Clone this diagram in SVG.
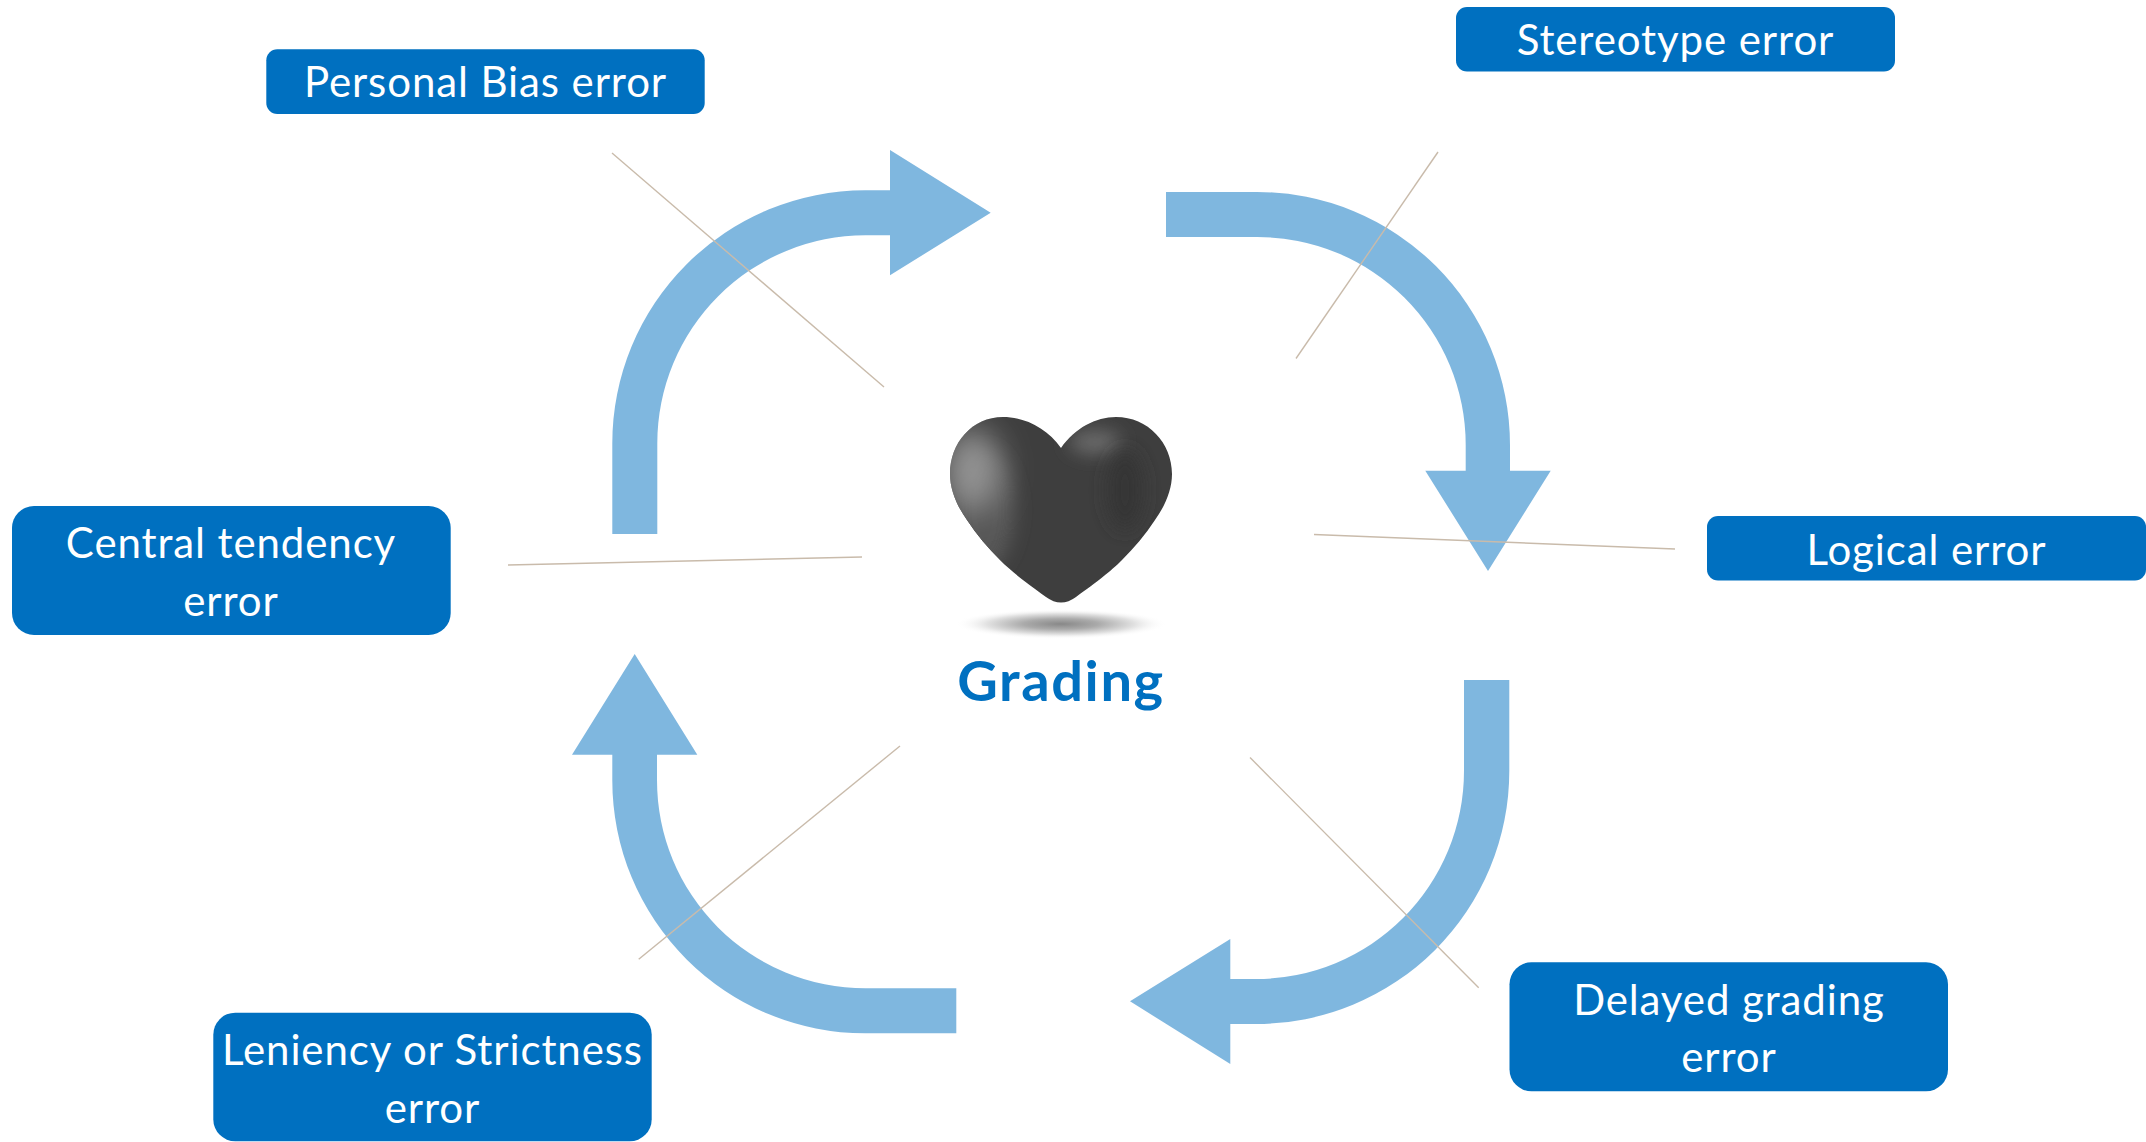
<svg xmlns="http://www.w3.org/2000/svg" width="2146" height="1142" viewBox="0 0 2146 1142">
<style>
.box{fill:#0070c0}
.t{font-family:"Lato","Open Sans",sans-serif;font-size:42px;letter-spacing:.9px;fill:#fff;text-anchor:middle}
.g{font-family:"Lato","Open Sans",sans-serif;font-size:56px;font-weight:700;letter-spacing:1.6px;fill:#0070c0;text-anchor:middle}
.l{stroke:#c9bbab;stroke-width:1.4;fill:none}
.a{fill:#0070c0;fill-opacity:.5}
</style>
<defs>
<filter id="b1" x="-80%" y="-80%" width="260%" height="260%"><feGaussianBlur stdDeviation="16"/></filter>
<filter id="b3" x="-80%" y="-80%" width="260%" height="260%"><feGaussianBlur stdDeviation="9"/></filter>
<radialGradient id="sh"><stop offset="0" stop-color="#888"/><stop offset=".35" stop-color="#aaa"/><stop offset=".7" stop-color="#e2e2e2"/><stop offset="1" stop-color="#fff" stop-opacity="0"/></radialGradient>
<clipPath id="hc"><path d="M1061 448C1047 428 1024 417 1003 417C972 417 950 443 950 474C950 490 957 506 967 520C977 535 988 548 1000 560C1012 572 1024 581 1046 597Q1061 608 1076 597C1098 581 1110 572 1122 560C1134 548 1145 535 1155 520C1165 506 1172 490 1172 474C1172 443 1148 417 1116 417C1096 417 1075 428 1061 448Z"/></clipPath>
</defs>
<g id="arrows">
<path class="a" d="M612.300 534V443.300A253 253 0 0 1 865.300 190.300H890V150L990.700 212.700L890 275.300V235.300H865.300A208 208 0 0 0 657.300 443.300V534Z"/>
<path class="a" d="M1166 192H1257A253 253 0 0 1 1510 445V470.700H1550.700L1488 571L1425.300 470.700H1465.700V445A208.300 208 0 0 0 1257 237H1166Z"/>
<path class="a" d="M1509.300 680V771A253.300 253 0 0 1 1256 1024H1230.300V1064L1130 1001.300L1230.300 939V979H1256A208 208 0 0 0 1464 771V680Z"/>
<path class="a" d="M956.300 1033.300H865.300A253 253 0 0 1 612.300 780.300V754.700H572L634.700 654L697.300 754.700H657V780.300A208.300 208 0 0 0 865.300 988.300H956.300Z"/>
</g>
<g id="connectors">
<line class="l" x1="612" y1="153" x2="884" y2="387"/>
<line class="l" x1="1438" y1="152" x2="1296" y2="358.500"/>
<line class="l" x1="1314" y1="534.500" x2="1675" y2="549"/>
<line class="l" x1="1250" y1="757.500" x2="1478.700" y2="987.700"/>
<line class="l" x1="900" y1="746" x2="638.700" y2="959.300"/>
<line class="l" x1="508" y1="565" x2="862" y2="557"/>
</g>
<g id="heart">
<ellipse cx="1061" cy="624" rx="106" ry="15" fill="url(#sh)"/>
<g clip-path="url(#hc)">
<rect x="940" y="410" width="240" height="200" fill="#3e3e3e"/>
<ellipse cx="985" cy="510" rx="30" ry="60" fill="#565656" filter="url(#b3)"/>
<ellipse cx="972" cy="470" rx="28" ry="42" fill="#949494" filter="url(#b1)"/>
<ellipse cx="1095" cy="442" rx="26" ry="12" fill="#6a6a6a" filter="url(#b3)"/>
<ellipse cx="1125" cy="490" rx="18" ry="40" fill="#363636" filter="url(#b3)"/>
</g>
<text class="g" x="1061" y="701">Grading</text>
</g>
<g id="personal-bias"><rect class="box" x="266.300" y="49.300" width="438.400" height="64.700" rx="11"/><text class="t" x="485.500" y="97">Personal Bias error</text></g>
<g id="stereotype"><rect class="box" x="1456" y="7" width="439" height="64.500" rx="11"/><text class="t" x="1675.500" y="55">Stereotype error</text></g>
<g id="logical"><rect class="box" x="1707" y="516" width="439" height="64.500" rx="11"/><text class="t" x="1926.500" y="564.500">Logical error</text></g>
<g id="central-tendency"><rect class="box" x="12" y="506" width="438.700" height="129" rx="22"/><text class="t" x="231" y="558">Central tendency</text><text class="t" x="231" y="615.500">error</text></g>
<g id="delayed-grading"><rect class="box" x="1509.500" y="962.300" width="438.500" height="129" rx="22"/><text class="t" x="1729" y="1014.500">Delayed grading</text><text class="t" x="1729" y="1071.500">error</text></g>
<g id="leniency-strictness"><rect class="box" x="213.300" y="1012.700" width="438.400" height="128.600" rx="22"/><text class="t" x="432.500" y="1065">Leniency or Strictness</text><text class="t" x="432.500" y="1123">error</text></g>
</svg>
